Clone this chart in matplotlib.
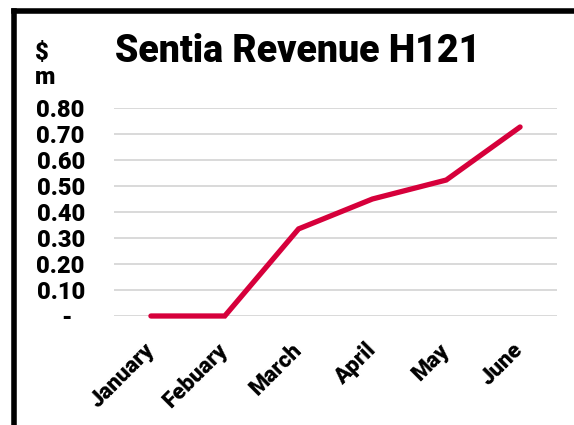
import matplotlib
matplotlib.use("Agg")
import matplotlib.pyplot as plt
from matplotlib.lines import Line2D

months = ["January", "Febuary", "March", "April", "May", "June"]
revenue = [0.0, 0.0, 0.335, 0.45, 0.523, 0.727]
yticks = [0.0, 0.1, 0.2, 0.3, 0.4, 0.5, 0.6, 0.7, 0.8]
ytick_labels = ["-  ", "0.10", "0.20", "0.30", "0.40", "0.50", "0.60", "0.70", "0.80"]

plt.rcParams['font.family'] = ['Roboto', 'DejaVu Sans']

fig = plt.figure(figsize=(5.74, 4.25), dpi=100)
ax = fig.add_axes([114/574, 1-316/425, (557-114)/574, (316-108)/425])

x = list(range(len(months)))
ax.plot(x, revenue, color='#D6003B', lw=3.8, solid_capstyle='round', solid_joinstyle='miter', zorder=3, clip_on=False)
ax.set_xlim(-0.5, len(months) - 0.5)
ax.set_ylim(0, 0.8)
ax.set_yticks(yticks)
ax.set_yticklabels(ytick_labels, fontsize=17, fontweight='heavy')
ax.set_xticks(x)
ax.set_xticklabels(months, fontsize=16, fontweight='heavy', rotation=45, ha='right', va='center', rotation_mode='anchor')
ax.tick_params(axis='y', length=0, pad=21)
ax.tick_params(axis='x', length=0, pad=22)
ax.grid(axis='y', color='#D9D9D9', lw=1.4)
ax.set_axisbelow(True)
for s in ax.spines.values():
    s.set_visible(False)

fig.text(298/574, 1-52/425, "Sentia Revenue H121", ha='center', va='center', fontsize=27, fontweight='heavy')
fig.text(35/574, 1-52/425, "$", ha='left', va='center', fontsize=17, fontweight='heavy')
fig.text(35/574, 1-78/425, "m", ha='left', va='center', fontsize=17, fontweight='heavy')

# frame lines (left and top)
fig.add_artist(Line2D([14/574, 14/574], [0, 1-11/425], transform=fig.transFigure, color='black', lw=4, solid_capstyle='projecting'))
fig.add_artist(Line2D([14/574, 1], [1-11/425, 1-11/425], transform=fig.transFigure, color='black', lw=4, solid_capstyle='projecting'))

fig.savefig("out.png", dpi=100)
